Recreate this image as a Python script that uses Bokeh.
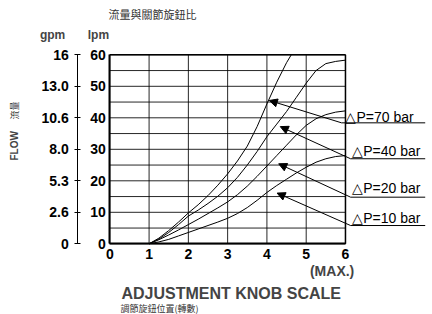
from bokeh.plotting import figure
from bokeh.models import Range1d, LinearAxis, FixedTicker, Label, Arrow, NormalHead
from bokeh.embed import file_html
from bokeh.resources import INLINE
import math

# ---- data ----
knob_ticks = [0, 1, 2, 3, 4, 5, 6]
lpm_ticks = [0, 10, 20, 30, 40, 50, 60]
gpm_labels = ["0", "2.6", "5.3", "8.0", "10.6", "13.0", "16"]
grid_lpm = [0, 5, 10, 15, 20, 25, 30, 35, 40, 45, 50, 55, 60]

knob_70 = [1, 1.25, 1.5, 1.75, 2, 2.25, 2.5, 2.75, 3, 3.25, 3.5, 3.75, 4, 4.25, 4.5, 4.62]
flow_70 = [0, 1.8, 4.2, 6.9, 9.8, 12.4, 15.3, 18.6, 22.2, 26.3, 31, 37.2, 44.4, 51.3, 57.5, 60]
knob_40 = [1, 1.25, 1.5, 1.75, 2, 2.25, 2.5, 2.75, 3, 3.25, 3.5, 3.75, 4, 4.25, 4.5,
           4.75, 5, 5.25, 5.5, 5.75, 6]
flow_40 = [0, 1.5, 3.6, 6.1, 8.8, 10.7, 12.8, 15.1, 17.8, 21.1, 25, 29.3, 34, 38, 42,
           46.5, 51, 55, 57.2, 57.9, 58.3]
knob_20 = [1, 1.25, 1.5, 1.75, 2, 2.25, 2.5, 2.75, 3, 3.25, 3.5, 3.75, 4, 4.25, 4.5,
           4.75, 5, 5.25, 5.5, 5.75, 6]
flow_20 = [0, 1.3, 2.8, 4.4, 6.1, 7.8, 9.6, 11.4, 13.3, 15.6, 18.3, 21.4, 24.7, 28, 31.3,
           34.6, 37.6, 39.7, 41, 41.8, 42.2]
knob_10 = [1, 1.25, 1.5, 1.75, 2, 2.25, 2.5, 2.75, 3, 3.25, 3.5, 3.75, 4, 4.25, 4.5,
           4.75, 5, 5.25, 5.5, 5.75, 6]
flow_10 = [0, 0.6, 1.4, 2.5, 3.6, 4.7, 5.8, 6.9, 8.1, 9.6, 11.5, 13.8, 16.3, 18.5, 20.5,
           22.5, 24.3, 25.9, 27, 27.7, 28]

series_names = ["\u25b3P=70 bar", "\u25b3P=40 bar", "\u25b3P=20 bar", "\u25b3P=10 bar"]

FONT = "Liberation Sans"
CJK = "Noto Sans CJK TC"

W, H = 432, 314
PX_PER_KNOB = 39.28
PX_PER_LPM = 3.15
X0_PX, Y0_PX = 109.3, 243.3  # where (0, 0) of the chart sits on the canvas

x_range = Range1d(-X0_PX / PX_PER_KNOB, (W - X0_PX) / PX_PER_KNOB)
y_range = Range1d(-(H - Y0_PX) / PX_PER_LPM, Y0_PX / PX_PER_LPM)

p = figure(width=W, height=H, x_range=x_range, y_range=y_range,
           x_axis_type=None, y_axis_type=None,
           min_border=0, min_border_left=0, min_border_right=0,
           min_border_top=0, min_border_bottom=0,
           output_backend="svg", toolbar_location=None,
           background_fill_color="white", border_fill_color="white")
p.outline_line_color = None

# grid (drawn from tick values)
kmin, kmax = knob_ticks[0], knob_ticks[-1]
lmin, lmax = lpm_ticks[0], lpm_ticks[-1]
p.segment(x0=[kmin] * len(grid_lpm), y0=grid_lpm,
          x1=[kmax] * len(grid_lpm), y1=grid_lpm, line_color="black",
          line_width=1, line_alpha=0.85)
p.segment(x0=knob_ticks, y0=[lmin] * len(knob_ticks), x1=knob_ticks,
          y1=[lmax] * len(knob_ticks), line_color="black", line_width=1,
          line_alpha=0.85)
# top / right border of the chart box
p.segment(x0=[kmin], y0=[lmax], x1=[kmax], y1=[lmax], line_color="black", line_width=1.5)
p.segment(x0=[kmax], y0=[lmin], x1=[kmax], y1=[lmax], line_color="black", line_width=1.5)

# x axis
xa = LinearAxis(ticker=FixedTicker(ticks=knob_ticks), fixed_location=0, bounds=(kmin, kmax),
                major_tick_in=0, major_tick_out=0, minor_tick_line_color=None,
                axis_line_width=2, axis_line_color="black",
                major_label_text_font=FONT, major_label_text_font_style="bold",
                major_label_text_font_size="14px", major_label_text_color="black",
                major_label_standoff=5)
p.add_layout(xa, "below")

# lpm axis
ya = LinearAxis(ticker=FixedTicker(ticks=lpm_ticks), fixed_location=0, bounds=(lmin, lmax),
                major_tick_in=0, major_tick_out=0, minor_tick_line_color=None,
                axis_line_width=2, axis_line_color="black",
                major_label_text_font=FONT, major_label_text_font_style="bold",
                major_label_text_font_size="14px", major_label_text_color="black",
                major_label_standoff=4)
p.add_layout(ya, "left")

# gpm axis
gpm_axis = LinearAxis(ticker=FixedTicker(ticks=lpm_ticks), fixed_location=-0.815,
                      bounds=(lmin, lmax),
                      major_label_overrides={t: s for t, s in zip(lpm_ticks, gpm_labels)},
                      major_tick_in=3, major_tick_out=3,
                      minor_tick_line_color=None,
                      axis_line_width=1, axis_line_color="black",
                      major_label_text_font=FONT, major_label_text_font_style="bold",
                      major_label_text_font_size="14px", major_label_text_color="black",
                      major_label_standoff=6)
p.add_layout(gpm_axis, "left")

# curves
for kx, fy in [(knob_70, flow_70), (knob_40, flow_40), (knob_20, flow_20), (knob_10, flow_10)]:
    p.line(kx, fy, line_color="black", line_width=1)

# callouts: (text x, text y, tail x, tail y, tip x, tip y)
callouts = [
    (6.0, 40.4, 5.9, 38.4, 4.06, 45.5),
    (6.17, 29.6, 6.13, 27.0, 4.34, 37.2),
    (6.17, 17.8, 6.13, 14.8, 4.30, 25.4),
    (6.17, 8.3, 6.13, 5.8, 4.26, 16.1),
]
underline_end = 8.03
for name, (tx, ty, sx, sy, ex, ey) in zip(series_names, callouts):
    p.add_layout(Arrow(x_start=sx, y_start=sy, x_end=ex, y_end=ey, line_width=1,
                       line_color="black",
                       end=NormalHead(size=8, fill_color="black", line_color="black")))
    p.add_layout(Arrow(x_start=sx, y_start=sy, x_end=underline_end, y_end=sy, line_width=1,
                       line_color="black", end=None))
    p.add_layout(Label(x=tx, y=ty, text=name, text_font=FONT, text_font_size="14px",
                       text_color="black", text_baseline="middle", text_align="left"))

# texts
p.add_layout(Label(x=-1.457, y=66.4, text="gpm", text_font=FONT, text_font_style="bold",
                   text_font_size="12px", text_align="center", text_baseline="middle"))
p.add_layout(Label(x=-0.29, y=66.4, text="lpm", text_font=FONT, text_font_style="bold",
                   text_font_size="12px", text_align="center", text_baseline="middle"))
p.add_layout(Label(x=-0.03, y=72.8, text="流量與關節旋鈕比", text_font=CJK,
                   text_font_size="11px", text_color="#333333",
                   text_align="left", text_baseline="middle"))
p.add_layout(Label(x=5.66, y=-8.5, text="(MAX.)", text_font=FONT, text_font_style="bold",
                   text_font_size="14px", text_align="center", text_baseline="middle"))
p.add_layout(Label(x=3.09, y=-15.8, text="ADJUSTMENT KNOB SCALE", text_font=FONT,
                   text_font_style="bold", text_font_size="16px",
                   text_align="center", text_baseline="middle"))
p.add_layout(Label(x=0.27, y=-20.6, text="調節旋鈕位置(轉數)", text_font=CJK,
                   text_font_size="9px", text_color="#333333",
                   text_align="left", text_baseline="middle"))
p.add_layout(Label(x=-2.42, y=31.1, text="FLOW", text_font=FONT, text_font_style="bold",
                   text_font_size="10px", angle=math.pi / 2,
                   text_align="center", text_baseline="middle"))
p.add_layout(Label(x=-2.42, y=42.3, text="流量", text_font=CJK,
                   text_font_size="9px", text_color="#333333", angle=math.pi / 2,
                   text_align="center", text_baseline="middle"))

open("out.html", "w").write(file_html(p, INLINE))
